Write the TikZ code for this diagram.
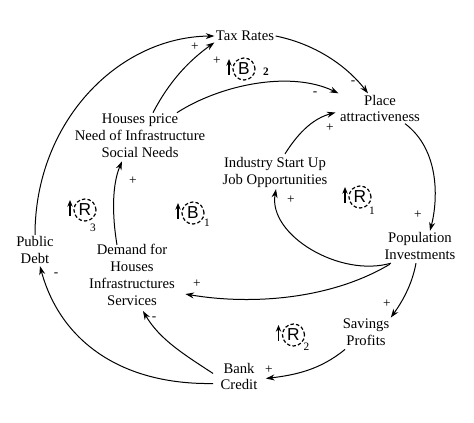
\documentclass[tikz,border=0pt]{standalone}
\usepackage{fontspec}
\setmainfont{Liberation Serif}
\setsansfont{Liberation Sans}
\usetikzlibrary{arrows.meta}
\begin{document}
\begin{tikzpicture}[x=0.75pt,y=-0.75pt,
  var/.style={align=center,inner sep=1pt,font=\fontsize{11}{12.6}\selectfont},
  arr/.style={-{Stealth[length=6.5pt,width=4.5pt]},line width=0.75pt},
  sgn/.style={inner sep=0pt,font=\fontsize{10}{11}\selectfont},
  loopc/.style={circle,draw,dashed,dash pattern=on 2.6pt off 1.6pt,line width=0.9pt,minimum size=16.5pt,inner sep=0pt,font=\sffamily\fontsize{13}{14}\selectfont},
  looparr/.style={-{Stealth[length=5pt,width=4pt]},line width=1.1pt},
  subs/.style={inner sep=0pt,font=\fontsize{8.5}{9}\selectfont}]
\useasboundingbox (0,0) rectangle (474,423);
\newcommand\cldloop[7]{%
  \node[loopc] (#1) at (#2,#3) {#4};
  \draw[looparr] ([shift={(-15,6)}]#1.center) -- ([shift={(-15,-10)}]#1.center);
  \node[subs] (#1s) at ([shift={(#6,#7)}]#1.center) {#5};}
% variables
\node[var] (tax) at (245,36) {Tax Rates};
\node[var] (place) at (380,108.5) {Place\\attractiveness};
\node[var] (houses) at (140,136) {Houses price\\Need of Infrastructure\\Social Needs};
\node[var] (industry) at (275,172.5) {Industry Start Up\\Job Opportunities};
\node[var] (debt) at (35,250) {Public\\Debt};
\node[var] (demand) at (132,275) {Demand for\\Houses\\Infrastructures\\Services};
\node[var] (pop) at (420,246) {Population\\Investments};
\node[var] (sav) at (366,332.5) {Savings\\Profits};
\node[var] (bank) at (239,376.5) {Bank\\Credit};
% loops
\cldloop{bb2}{244}{69}{B}{\textbf{2}}{22}{3}
\cldloop{rr1}{360}{197}{R}{1}{12}{14}
\cldloop{rr3}{85}{210}{R}{3}{8}{18}
\cldloop{bb1}{193}{213}{B}{1}{14}{10}
\cldloop{rr2}{293.5}{335}{R}{2}{13}{12}
% links
\draw[arr] (debt.north) .. controls (35,122) and (118,37) .. (tax.west);
\draw[arr] ([shift={(13,0)}]houses.north) .. controls (170,80) and (190,60) .. (tax.south west);
\draw[arr] (tax.east) .. controls (320,45) and (350,70) .. ([shift={(-12,0)}]place.north);
\draw[arr] ([shift={(37,0)}]houses.north) .. controls (220,85) and (290,70) .. (place.north west);
\draw[arr] ([shift={(10,-2)}]industry.north) .. controls (300,130) and (315,118) .. ([shift={(-3,4)}]place.west);
\draw[arr] ([shift={(25,0)}]place.south) .. controls (440,150) and (438,200) .. ([shift={(10,0)}]pop.north);
\draw[arr] ([shift={(8,2)}]pop.south west) .. controls (340,278) and (268,235) .. ([shift={(1,0)}]industry.south);
\draw[arr] ([shift={(7,3)}]pop.south west) .. controls (330,300) and (250,305) .. ([shift={(9,-13)}]demand.south east);
\draw[arr] ([shift={(-4,2)}]pop.south) .. controls (412,285) and (402,302) .. (sav.north east);
\draw[arr] ([shift={(-21,2)}]sav.south) .. controls (320,370) and (295,375) .. ([shift={(7,2)}]bank.east);
\draw[arr] ([shift={(-6,-3)}]bank.west) .. controls (185,355) and (160,340) .. ([shift={(11,4)}]demand.south);
\draw[arr] ([shift={(-6,7)}]bank.west) .. controls (120,385) and (60,340) .. ([shift={(5,1)}]debt.south);
\draw[arr] ([shift={(-15,2)}]demand.north) .. controls (112,215) and (112,185) .. ([shift={(-18,2)}]houses.south);
% polarities
\node[sgn] (p1) at (195,47) {+};
\node[sgn] (p2) at (217,61) {+};
\node[sgn] (p3) at (353,83) {-};
\node[sgn] (p4) at (315,94) {-};
\node[sgn] (p5) at (330,128) {+};
\node[sgn] (p6) at (418,215) {+};
\node[sgn] (p7) at (291,200) {+};
\node[sgn] (p8) at (197,284) {+};
\node[sgn] (p9) at (387,304) {+};
\node[sgn] (p10) at (269,370) {+};
\node[sgn] (p11) at (154,319) {-};
\node[sgn] (p12) at (56,275) {-};
\node[sgn] (p13) at (133,181) {+};
\end{tikzpicture}
\end{document}
